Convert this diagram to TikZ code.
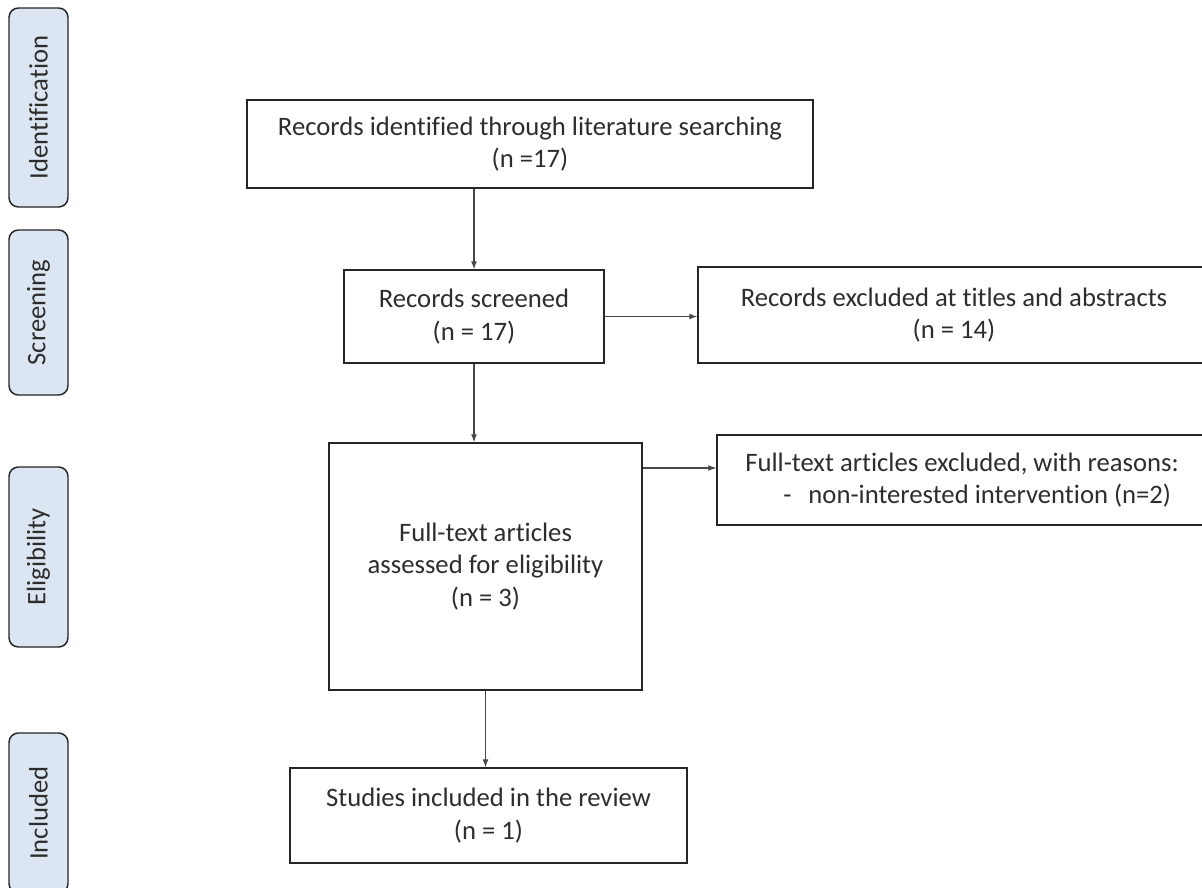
\documentclass[tikz,border=0pt]{standalone}
\usepackage{fontspec}
\setmainfont{Carlito}[Ligatures=NoCommon]
\usetikzlibrary{arrows.meta}

\definecolor{stagefill}{RGB}{220,230,242}
\definecolor{boxline}{RGB}{38,38,38}
\definecolor{boxtext}{RGB}{45,45,45}

\tikzset{every picture/.style={line width=0.75pt}}
\tikzset{
  flowbox/.style={draw=boxline, line width=1.1pt, align=center, inner sep=0pt, text=boxtext, font=\fontsize{20}{24.5}\selectfont},
  stagebox/.style={draw=boxline, fill=stagefill, rounded corners=7pt, line width=1.1pt, rotate=90, inner sep=0pt, minimum height=44.25pt, text=boxtext, font=\fontsize{20}{24.5}\selectfont},
  flowarrow/.style={draw=boxline!85, line width=0.8pt, -{Latex[length=6pt,width=4.5pt]}},
}

\begin{document}
\begin{tikzpicture}[x=0.75pt,y=0.75pt,yscale=-1,xscale=1]
\useasboundingbox (0,0) rectangle (1202,888);

%Shape: Rounded Rect (stages)
\node [stagebox, minimum width=149.25pt] (stageid) at (38.5,107.5) {Identification};
\node [stagebox, minimum width=123.75pt] (stagescr) at (38.5,312.5) {Screening};
\node [stagebox, minimum width=135pt] (stageel) at (38.5,557) {Eligibility};
\node [stagebox, minimum width=120pt] (stagein) at (38.5,813) {Included};

% Text Node
\node [flowbox, minimum width=424.5pt, minimum height=66pt] (idrec) at (530,144) {Records identified through literature searching\\(n =17)};
% Text Node
\node [flowbox, minimum width=195pt, minimum height=69.75pt] (scrrec) at (474,316.5) {Records screened\\(n = 17)};
% Text Node
\node [flowbox, minimum width=384pt, minimum height=72pt] (exclta) at (954,315) {Records excluded at titles and abstracts\\(n = 14)};
% Text Node
\node [flowbox, minimum width=234.75pt, minimum height=185.25pt] (fulltext) at (485.5,566.5) {Full-text articles\\assessed for eligibility\\(n = 3)};
% Text Node
\node [flowbox, align=left, minimum width=367.5pt, minimum height=67.5pt] (exclft) at (962,480) {Full-text articles excluded, with reasons:\\\hspace*{28.5pt}-\hspace*{12.75pt}non-interested intervention (n=2)};
% Text Node
\node [flowbox, minimum width=297.75pt, minimum height=71.25pt] (inclrev) at (488.5,815.5) {Studies included in the review\\(n = 1)};
\coordinate (ftexit) at ([yshift=-9pt]exclft.west);

%Straight Lines
\draw [flowarrow] (scrrec.north |- idrec.south) -- (scrrec.north);
\draw [flowarrow] (scrrec.south) -- (scrrec.south |- fulltext.north);
\draw [flowarrow] (scrrec.east) -- (scrrec.east -| exclta.west);
\draw [flowarrow] (ftexit -| fulltext.east) -- (ftexit);
\draw [flowarrow] (fulltext.south) -- (fulltext.south |- inclrev.north);

\end{tikzpicture}
\end{document}
